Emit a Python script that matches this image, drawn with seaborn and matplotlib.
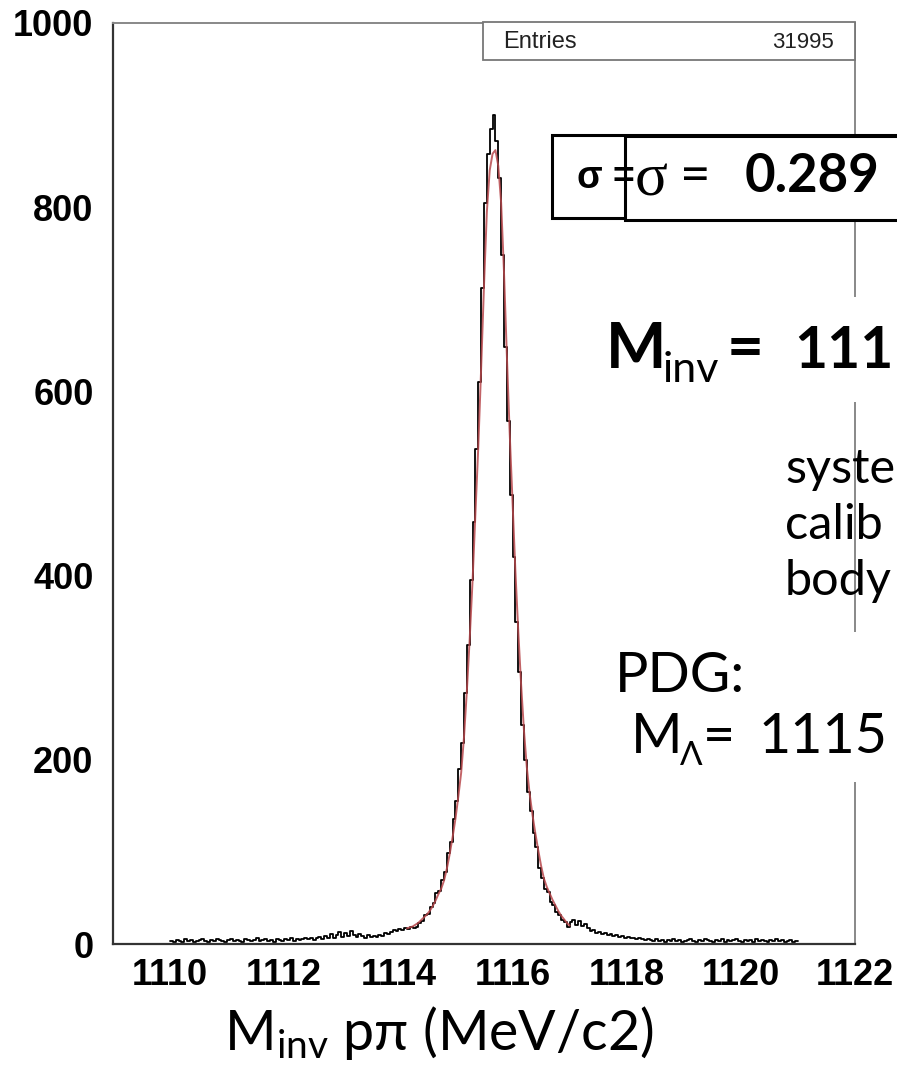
import numpy as np
import pandas as pd
import seaborn as sns
import matplotlib.pyplot as plt
from matplotlib.patches import Rectangle

# invariant mass histogram, 0.05 MeV bins starting at 1110.0
bin_start = 1110.0
bin_width = 0.05
counts = [
    # 1110.00 - 1112.35
    3, 2, 4, 3, 2, 5, 3, 4, 2, 3, 4, 5, 3, 2, 4, 3, 5, 4, 3, 2,
    4, 5, 3, 4, 3, 2, 5, 4, 3, 4, 6, 3, 4, 5, 3, 4, 2, 5, 4, 3,
    5, 4, 6, 3, 5, 4, 5, 6,
    # 1112.40 - 1113.55
    5, 7, 4, 6, 8, 5, 9, 6, 11, 7, 10, 13, 8, 12, 9, 14, 10, 8, 11, 9,
    7, 10, 8, 9,
    # 1113.60 - 1114.25
    8, 10, 9, 12, 11, 13, 15, 14, 16, 15, 17, 16, 18, 17,
    # 1114.30 - 1115.60
    19, 23, 25, 31, 33, 40, 45, 55, 58, 70, 78, 99, 111, 136, 155, 190,
    218, 272, 325, 395, 458, 538, 610, 712, 805, 858, 885,
    # 1115.65 - 1116.95
    900, 872, 832, 748, 648, 568, 488, 420, 350, 295, 238, 200, 165, 144,
    120, 105, 83, 72, 60, 56, 46, 42, 35, 32, 26, 24, 19,
    # 1117.00 - 1118.35
    24, 26, 21, 25, 20, 22, 17, 14, 15, 12, 13, 11, 12, 10, 11, 9, 10, 8,
    9, 7, 8, 6, 7, 5, 6, 5, 4, 5,
    # 1118.40 - 1120.95
    4, 3, 5, 3, 4, 2, 4, 3, 5, 3, 4, 2, 3, 4, 5, 3, 2, 4, 3, 5,
    4, 3, 2, 4, 3, 5, 2, 4, 3, 4, 5, 3, 2, 4, 3, 4, 2, 5, 3, 4,
    3, 2, 4, 3, 5, 3, 4, 2, 3, 4, 2, 3,
]

# fitted curve (red)
fit_x = [
    1114.15, 1114.20, 1114.25, 1114.30, 1114.35, 1114.40, 1114.45, 1114.50,
    1114.55, 1114.60, 1114.65, 1114.70, 1114.75, 1114.80, 1114.85, 1114.90,
    1114.95, 1115.00, 1115.05, 1115.10, 1115.15, 1115.20, 1115.25, 1115.30,
    1115.35, 1115.40, 1115.45, 1115.50, 1115.55, 1115.60, 1115.65, 1115.70,
    1115.75, 1115.80, 1115.85, 1115.90, 1115.95, 1116.00, 1116.05, 1116.10,
    1116.15, 1116.20, 1116.25, 1116.30, 1116.35, 1116.40, 1116.45, 1116.50,
    1116.55, 1116.60, 1116.65, 1116.70, 1116.75, 1116.80, 1116.85, 1116.90,
    1116.95, 1117.00,
]
fit_y = [
    17, 18, 19, 21, 23, 26, 29, 32, 36, 41, 47, 54, 60, 69, 82, 98,
    116, 136, 160, 186, 225, 275, 332, 395, 468, 540, 625, 715, 795, 840,
    858, 862, 845, 805, 730, 640, 555, 480, 405, 340, 282, 232, 192, 163,
    140, 120, 102, 85, 71, 62, 55, 48, 42, 36, 31, 27, 23, 20,
]

x_ticks = [1110, 1112, 1114, 1116, 1118, 1120, 1122]
y_ticks = [0, 200, 400, 600, 800, 1000]
entries = 31995
sigma_text = "0.289"

sns.set_theme(style="white")
plt.rcParams["font.family"] = ["Liberation Sans", "DejaVu Sans"]
plt.rcParams["text.color"] = "black"

W, H = 897, 1075
fig = plt.figure(figsize=(W / 100, H / 100), dpi=100)
ax = fig.add_axes([113 / W, 1 - 944 / H, 742 / W, 921 / H])

centers = bin_start + bin_width * (np.arange(len(counts)) + 0.5)
hist_df = pd.DataFrame({"m": centers, "n": counts})
sns.histplot(data=hist_df, x="m", weights="n", binwidth=bin_width,
             binrange=(bin_start, bin_start + bin_width * len(counts)),
             element="step", fill=False, color="black", linewidth=1.3, ax=ax)
fit_df = pd.DataFrame({"m": fit_x, "n": fit_y})
sns.lineplot(data=fit_df, x="m", y="n", color="#b8484c", linewidth=1.4,
             alpha=0.85, ax=ax)

ax.set_xlim(1109, 1122)
ax.set_ylim(0, 1000)
ax.set_xticks(x_ticks)
ax.set_yticks(y_ticks)
ax.set_xticks(np.arange(1109, 1122.01, 0.5), minor=True)
ax.set_yticks(np.arange(0, 1001, 50), minor=True)
ax.set_xlabel("")
ax.set_ylabel("")
ax.tick_params(axis="both", which="both", direction="in", colors="#666",
               labelcolor="black", labelsize=26)
ax.tick_params(which="major", length=13, width=1.2)
ax.tick_params(which="minor", length=8, width=1.0)
ax.tick_params(axis="y", pad=14)
ax.tick_params(axis="x", pad=10)
for lab in ax.get_xticklabels() + ax.get_yticklabels():
    lab.set_fontweight("bold")
for side in ["left", "bottom"]:
    ax.spines[side].set_color("#333")
    ax.spines[side].set_linewidth(1.6)
for side in ["top", "right"]:
    ax.spines[side].set_color("#888")
    ax.spines[side].set_linewidth(1.4)


def fx(px):
    return px / W


def fy(py):
    return 1 - py / H


def box(x0, y0, x1, y1, ec="black", lw=2.2, face="white"):
    r = Rectangle((fx(x0), fy(y1)), fx(x1) - fx(x0), fy(y0) - fy(y1),
                  transform=fig.transFigure, facecolor=face, edgecolor=ec,
                  linewidth=lw, zorder=3)
    fig.patches.append(r)


# stats box
box(483, 22, 855, 60, ec="#777", lw=1.3)
fig.text(fx(503), fy(42), "Entries", fontsize=17, va="center", zorder=4,
         color="#222")
fig.text(fx(834), fy(42), f"{entries}", fontsize=16, va="center",
         ha="right", zorder=4, color="#222")

# sigma boxes
box(552, 135, 930, 218)
fig.text(fx(577), fy(178), "σ =", fontsize=27, fontweight="bold",
         va="center", zorder=4)
box(625, 136, 930, 220)
fig.text(fx(635), fy(181), "σ", fontsize=44, family="Liberation Serif",
         va="center", zorder=4)
fig.text(fx(680), fy(178), "=", fontsize=38, family="Lato",
         va="center", zorder=4)
fig.text(fx(745), fy(177), sigma_text, fontsize=38, family="Lato",
         fontweight="bold", va="center", zorder=4)

# mean mass (the slide crops it at the right edge)
box(600, 297, 930, 402, ec="none", lw=0)
fig.text(fx(606), fy(368), "M", fontsize=46, family="Lato", fontweight="bold",
         va="baseline", zorder=4)
fig.text(fx(663), fy(382), "inv", fontsize=31, family="Lato",
         va="baseline", zorder=4)
fig.text(fx(727), fy(368), "=", fontsize=46, family="Lato",
         fontweight="bold", va="baseline", zorder=4)
fig.text(fx(794), fy(368), "111", fontsize=41, family="Lato",
         fontweight="bold", va="baseline", zorder=4)

for txt, yb in [("syste", 483), ("calib", 539), ("body", 595)]:
    fig.text(fx(785), fy(yb), txt, fontsize=35, family="Lato",
             va="baseline", zorder=4)

# PDG value
box(600, 632, 930, 782, ec="none", lw=0)
fig.text(fx(615), fy(692), "PDG:", fontsize=40, family="Lato",
         va="baseline", zorder=4)
fig.text(fx(631), fy(753), "M", fontsize=40, family="Lato",
         va="baseline", zorder=4)
fig.text(fx(680), fy(765), "Λ", fontsize=24, family="Lato",
         va="baseline", zorder=4)
fig.text(fx(703), fy(753), "=", fontsize=40, family="Lato",
         va="baseline", zorder=4)
fig.text(fx(759), fy(753), "1115", fontsize=40, family="Lato",
         va="baseline", zorder=4)

# axis title
fig.text(fx(439), fy(1050), "M$\\mathregular{_{inv}}$ pπ (MeV/c2)",
         fontsize=40, family="Lato", ha="center", va="baseline")

fig.savefig("out.png", dpi=100)
